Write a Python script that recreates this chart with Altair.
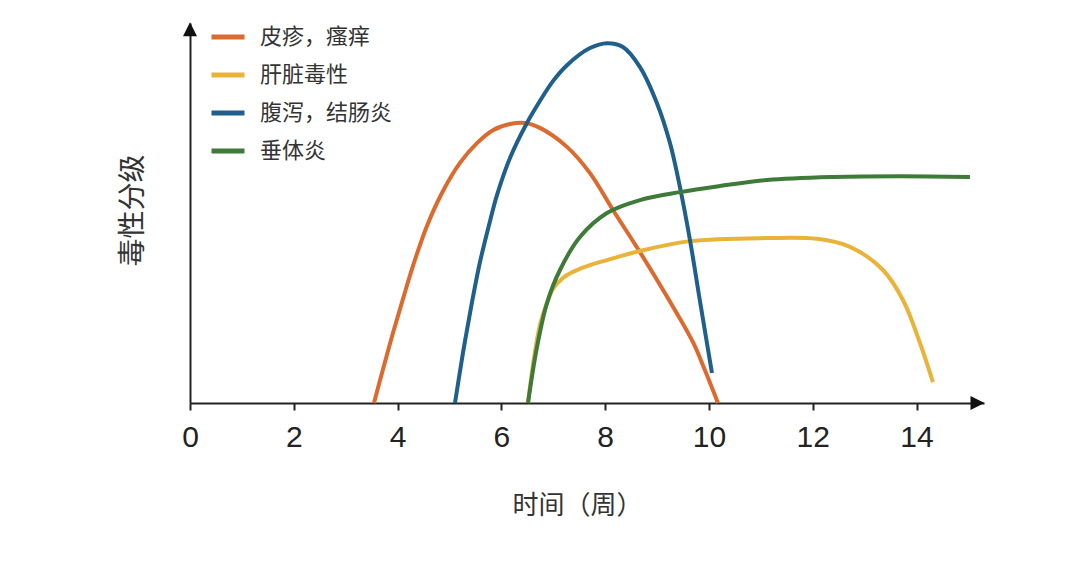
import altair as alt
import pandas as pd

series_names = ["皮疹，瘙痒", "肝脏毒性", "腹泻，结肠炎", "垂体炎"]
series_colors = ["#DC6A2F", "#E8B338", "#1F5F8C", "#3E7A38"]

rash_x = [3.545, 3.719, 3.911, 4.104, 4.297, 4.566, 4.875, 5.202, 5.530, 5.838, 6.166,
          6.455, 6.744, 7.264, 7.707, 8.150, 8.671, 9.191, 9.692, 9.923, 10.173]
rash_y = [0.0, 0.89, 1.84, 2.74, 3.61, 4.66, 5.58, 6.32, 6.84, 7.18, 7.34,
          7.37, 7.24, 6.74, 6.05, 5.08, 3.97, 2.80, 1.60, 0.86, 0.0]

liver_x = [6.513, 6.628, 6.744, 6.879, 6.994, 7.187, 7.380, 7.707, 8.035, 8.671,
           9.634, 11.118, 12.081, 12.717, 13.353, 13.738, 14.066, 14.316]
liver_y = [0.0, 1.18, 2.05, 2.63, 3.0, 3.29, 3.45, 3.63, 3.76, 4.0,
           4.26, 4.34, 4.32, 4.11, 3.5, 2.71, 1.58, 0.55]

colitis_x = [5.106, 5.260, 5.337, 5.453, 5.588, 5.761, 5.915, 6.166, 6.493, 6.744, 6.994, 7.264,
             7.707, 8.035, 8.343, 8.671, 8.998, 9.249, 9.441, 9.634, 9.827, 9.961, 10.058]
colitis_y = [0.0, 1.32, 1.92, 2.79, 3.71, 4.68, 5.47, 6.45, 7.37, 7.95, 8.47, 8.89,
             9.34, 9.47, 9.37, 8.84, 7.89, 6.84, 5.68, 4.29, 2.68, 1.58, 0.79]

hypo_x = [6.513, 6.686, 6.879, 7.129, 7.514, 8.035, 8.671, 9.441, 10.212, 11.118, 12.389, 13.680, 15.029]
hypo_y = [0.0, 1.47, 2.63, 3.50, 4.37, 5.0, 5.34, 5.55, 5.71, 5.87, 5.95, 5.97, 5.95]

x_ticks = [0, 2, 4, 6, 8, 10, 12, 14]
X_MAX = 15.3
Y_MAX = 10.0

rows = []
for name, xs, ys in zip(series_names,
                        [rash_x, liver_x, colitis_x, hypo_x],
                        [rash_y, liver_y, colitis_y, hypo_y]):
    for i, (a, b) in enumerate(zip(xs, ys)):
        rows.append({"series": name, "week": a, "grade": b, "order": i})
df = pd.DataFrame(rows)

xscale = alt.Scale(domain=[0, X_MAX], nice=False, zero=False)
yscale = alt.Scale(domain=[0, Y_MAX], nice=False)

x_axis = alt.Axis(
    values=x_ticks, title="时间（周）", grid=False,
    domainColor="#222", domainWidth=2,
    tickColor="#222", tickWidth=2, tickSize=7,
    labelFont="Liberation Sans", labelFontSize=30, labelColor="#222",
    labelPadding=12, labelFlush=False,
    titleFont="Noto Sans CJK SC", titleFontSize=26, titleFontWeight="normal",
    titleColor="#333", titleX=387, titleY=102, titleBaseline="middle",
)
y_axis = alt.Axis(
    title="毒性分级", grid=False, ticks=False, labels=False,
    domainColor="#222", domainWidth=2,
    titleFont="Noto Sans CJK SC", titleFontSize=28, titleFontWeight="normal",
    titleColor="#333", titleX=-57, titleY=187, titleAngle=270,
    titleBaseline="middle", titleAlign="center",
)

lines = alt.Chart(df).mark_line(strokeWidth=4, interpolate="catmull-rom").encode(
    x=alt.X("week:Q", scale=xscale, axis=x_axis),
    y=alt.Y("grade:Q", scale=yscale, axis=y_axis),
    color=alt.Color(
        "series:N", sort=series_names,
        scale=alt.Scale(domain=series_names, range=series_colors),
        legend=alt.Legend(
            orient="none", legendX=19, legendY=-5, title=None,
            symbolType="stroke", symbolSize=1089, symbolStrokeWidth=5,
            labelFont="Noto Sans CJK SC", labelFontSize=22, labelColor="#333",
            labelOffset=13, rowPadding=8, padding=0, symbolOffset=0,
        ),
    ),
    order="order:Q",
)

arrow_df_y = pd.DataFrame({"week": [0.0], "grade": [Y_MAX - 0.166]})
arrow_df_x = pd.DataFrame({"week": [X_MAX - 0.125], "grade": [0.0]})

arrow_up = alt.Chart(arrow_df_y).mark_point(
    shape="M -1 1 L 0 -1 L 1 1 Z", filled=True, color="#111", opacity=1, size=196
).encode(x=alt.X("week:Q", scale=xscale), y=alt.Y("grade:Q", scale=yscale))

arrow_right = alt.Chart(arrow_df_x).mark_point(
    shape="M -1 -1 L 1 0 L -1 1 Z", filled=True, color="#111", opacity=1, size=196
).encode(x=alt.X("week:Q", scale=xscale), y=alt.Y("grade:Q", scale=yscale))

chart = alt.layer(lines, arrow_up, arrow_right).properties(
    width=794, height=380,
    autosize=alt.AutoSizeParams(type="none"),
    padding={"left": 182, "top": 15, "right": 60, "bottom": 140},
    background="white",
).configure_view(stroke=None)

chart.save("out.html", embed_options={"renderer": "svg", "actions": False})
